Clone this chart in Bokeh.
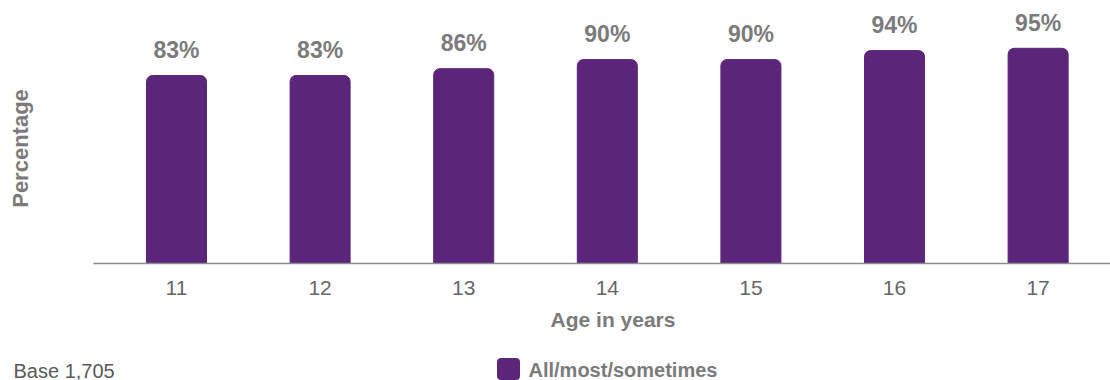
from bokeh.plotting import figure
from bokeh.models import Range1d, FixedTicker
from bokeh.layouts import column
from bokeh.core.properties import value
from bokeh.embed import file_html
from bokeh.resources import INLINE
import math

ages = [11, 12, 13, 14, 15, 16, 17]
values = [83, 83, 86, 90, 90, 94, 95]
value_labels = ["83%", "83%", "86%", "90%", "90%", "94%", "95%"]
tick_labels = {a: str(a) for a in ages}
series_name = "All/most/sometimes"
base_note = "Base 1,705"
y_title = "Percentage"
x_title = "Age in years"

PURPLE = "#5B267A"
GREY = "#7B7B7B"
FONT = "Liberation Sans"

X0, X1 = 9.7744, 17.504
p = figure(width=1110, height=303, output_backend="svg", toolbar_location=None,
           x_range=Range1d(X0, X1), y_range=Range1d(0, 116.1),
           min_border_left=0, min_border_right=0,
           min_border_top=0, min_border_bottom=40, outline_line_color=None,
           y_axis_location=None)
p.grid.visible = False

bars = p.vbar(x=ages, top=values, width=0.418, fill_color=PURPLE, line_color=PURPLE,
              border_radius=(6, 6, 0, 0))

p.text(x=ages, y=[v + 11.2 for v in values], text=value_labels, text_align="center",
       text_baseline="middle", text_font_size="23px", text_font_style="bold",
       text_color=GREY, text_font=value(FONT))

# rotated y-axis title, placed in data space near the left edge
p.text(x=[X0 + 19.5 / 143.6], y=[(263 - 148) / 2.265], text=[y_title], angle=math.pi / 2,
       text_align="center", text_baseline="middle", text_font_size="22px",
       text_font_style="bold", text_color=GREY, text_font=value(FONT))

ax = p.xaxis[0]
ax.bounds = (10.422, X1)
ax.ticker = FixedTicker(ticks=ages)
ax.major_label_overrides = tick_labels
ax.major_tick_line_color = None
ax.minor_tick_line_color = None
ax.axis_line_color = "#8C8C8C"
ax.axis_line_width = 1.5
ax.major_label_text_font_size = "21px"
ax.major_label_text_color = "#666666"
ax.major_label_text_font = FONT
ax.major_label_standoff = 11

# footer strip: x title, base note and legend (page pixel coordinates)
f = figure(width=1110, height=77, output_backend="svg", toolbar_location=None,
           x_range=Range1d(0, 1110), y_range=Range1d(380, 303),
           min_border_left=0, min_border_right=0, min_border_top=0,
           min_border_bottom=0, outline_line_color=None,
           x_axis_location=None, y_axis_location=None)
f.grid.visible = False
f.text(x=[612.5], y=[318.5], text=[x_title], text_align="center", text_baseline="middle",
       text_font_size="21px", text_font_style="bold", text_color=GREY,
       text_font=value(FONT))
f.text(x=[13], y=[370], text=[base_note], text_align="left", text_baseline="middle",
       text_font_size="20px", text_color="#595959", text_font=value(FONT))
f.quad(left=[497], right=[519], bottom=[379], top=[358], fill_color=PURPLE,
       line_color=PURPLE, border_radius=3)
f.text(x=[528], y=[369], text=[series_name], text_align="left", text_baseline="middle",
       text_font_size="20px", text_font_style="bold", text_color=GREY,
       text_font=value(FONT))

layout = column(p, f, spacing=0)
open("out.html", "w").write(file_html(layout, INLINE))
